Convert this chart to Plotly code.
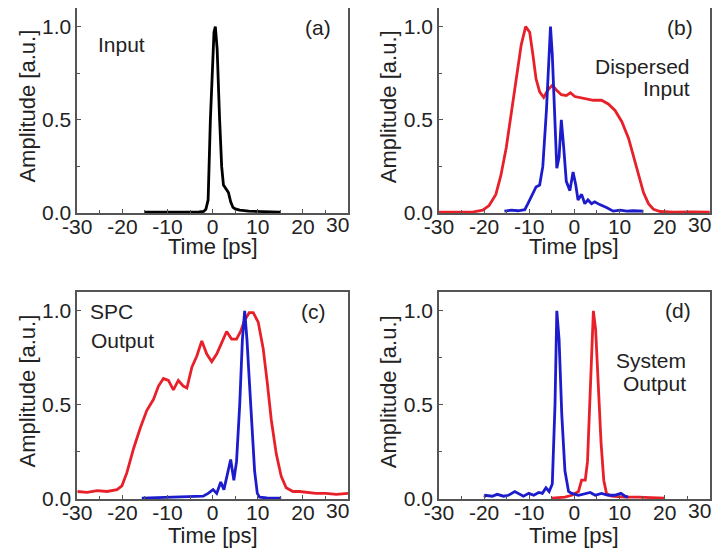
import plotly.graph_objects as go
from plotly.subplots import make_subplots

# (a) input pulse
a_t = [-15, -12, -9, -6, -3, -2, -1.5, -1.0, -0.5, 0, 0.3, 0.6, 1.0, 1.55, 2.0, 2.4, 3.0, 3.5, 4.0, 4.5, 5.0, 6, 8, 10, 12, 15]
a_y = [0.005, 0.004, 0.006, 0.005, 0.006, 0.008, 0.02, 0.07, 0.5, 0.85, 0.97, 1.0, 0.88, 0.5, 0.25, 0.15, 0.13, 0.11, 0.06, 0.03, 0.022, 0.015, 0.01, 0.008, 0.006, 0.005]

# (b) dispersed input
b_red_t = [-30, -25, -22.6, -20.3, -18.9, -17.4, -16.3, -15.1, -14.0, -12.9, -11.8, -10.8, -9.9, -9.2, -8.5, -7.7, -6.8, -5.9, -4.9, -4.0, -2.9, -1.8, -0.9, 0.1, 1.9, 4.2, 6.0, 7.5, 9.0, 10.5, 12.0, 13.1, 14.2, 15.3, 16.4, 17.5, 19.0, 22.0, 26, 30]
b_red_y = [0.005, 0.005, 0.005, 0.015, 0.04, 0.1, 0.2, 0.35, 0.53, 0.73, 0.9, 1.0, 0.97, 0.85, 0.72, 0.65, 0.62, 0.66, 0.685, 0.66, 0.635, 0.63, 0.645, 0.625, 0.615, 0.605, 0.605, 0.585, 0.55, 0.49, 0.4, 0.3, 0.2, 0.11, 0.05, 0.02, 0.008, 0.005, 0.006, 0.005]
b_blue_t = [-15.5, -14, -12.5, -11, -10.3, -9.2, -8.5, -7.7, -7.0, -6.2, -5.6, -5.3, -4.9, -4.4, -3.9, -3.4, -2.9, -2.4, -1.8, -1.0, -0.3, 0.3, 0.8, 1.6, 2.3, 3.0, 3.8, 4.5, 5.6, 7.1, 8.6, 10.1, 11.6, 13.0, 14.6, 15.3]
b_blue_y = [0.01, 0.015, 0.012, 0.018, 0.05, 0.1, 0.14, 0.15, 0.25, 0.55, 0.9, 1.0, 0.85, 0.5, 0.24, 0.3, 0.5, 0.36, 0.17, 0.12, 0.22, 0.15, 0.07, 0.1, 0.05, 0.07, 0.05, 0.06, 0.045, 0.03, 0.01, 0.015, 0.01, 0.012, 0.01, 0.01]

# (c) SPC output
c_red_t = [-30, -27.8, -25.6, -23.4, -21.2, -20.1, -19.0, -17.5, -16.0, -14.6, -13.1, -12.0, -10.9, -9.8, -8.7, -7.6, -6.5, -5.7, -4.6, -3.5, -2.4, -1.3, -0.2, 0.9, 2.0, 3.1, 4.2, 5.3, 6.2, 7.1, 8.1, 9.0, 10.1, 11.2, 12.1, 13.0, 14.1, 15.2, 16.3, 17.8, 19.3, 20.7, 22.9, 25.1, 27.4, 30]
c_red_y = [0.04, 0.035, 0.045, 0.04, 0.05, 0.07, 0.14, 0.27, 0.38, 0.47, 0.53, 0.6, 0.64, 0.63, 0.58, 0.63, 0.6, 0.59, 0.7, 0.76, 0.84, 0.77, 0.73, 0.77, 0.83, 0.89, 0.85, 0.85, 0.89, 0.95, 0.99, 0.99, 0.94, 0.8, 0.62, 0.42, 0.24, 0.12, 0.06, 0.04, 0.04, 0.035, 0.03, 0.03, 0.025, 0.03]
c_blue_t = [-15.7, -12, -8, -4, -2.1, -1.0, 0.1, 0.9, 1.8, 2.5, 3.2, 4.0, 4.7, 5.3, 6.0, 6.6, 7.1, 7.6, 8.2, 8.8, 9.3, 9.9, 10.4, 12, 15.2]
c_blue_y = [0.005, 0.008, 0.01, 0.012, 0.015, 0.03, 0.05, 0.03, 0.09, 0.05, 0.13, 0.21, 0.1, 0.2, 0.5, 0.85, 1.0, 0.85, 0.6, 0.35, 0.15, 0.03, 0.01, 0.006, 0.005]

# (d) system output
d_blue_t = [-19.9, -19.7, -18.2, -17.1, -15.7, -14.6, -13.2, -12.4, -11.3, -10.1, -9.0, -7.9, -7.1, -6.3, -5.6, -4.9, -4.3, -3.9, -3.4, -2.8, -2.1, -1.3, -0.6, 0.9, 2.4, 3.5, 4.6, 6.0, 7.5, 8.9, 10.3, 11.2, 11.9]
d_blue_y = [0.01, 0.02, 0.015, 0.025, 0.015, 0.02, 0.04, 0.03, 0.015, 0.03, 0.02, 0.035, 0.03, 0.06, 0.04, 0.08, 0.5, 1.0, 0.85, 0.45, 0.15, 0.04, 0.03, 0.02, 0.03, 0.035, 0.02, 0.03, 0.02, 0.02, 0.03, 0.015, 0.01]
d_red_t = [-5, -2.1, -0.6, 0.9, 1.6, 2.4, 2.9, 3.5, 4.0, 4.2, 4.7, 5.3, 5.9, 6.5, 7.1, 8.2, 11.2, 14.1, 17.1, 20]
d_red_y = [0.005, 0.01, 0.02, 0.04, 0.1, 0.1, 0.2, 0.6, 0.95, 1.0, 0.9, 0.6, 0.3, 0.1, 0.03, 0.015, 0.01, 0.01, 0.008, 0.005]

x_ticks = [-30, -20, -10, 0, 10, 20, 30]
x_labels = ["-30", "-20", "-10", "0", "10", "20", ""]
y_ticks = [0, 0.5, 1.0]
y_labels = ["0.0", "0.5", "1.0"]

RED = "#e8202a"
BLUE = "#1c1ccc"
INK = "#222"
FONT = "Liberation Sans, Arial, sans-serif"

fig = make_subplots(rows=2, cols=2)

def line(t, y, color, r, c):
    fig.add_trace(go.Scatter(x=t, y=y, mode="lines", showlegend=False,
                             line=dict(color=color, width=2.8)), row=r, col=c)

line(a_t, a_y, "black", 1, 1)
line(b_red_t, b_red_y, RED, 1, 2)
line(b_blue_t, b_blue_y, BLUE, 1, 2)
line(c_red_t, c_red_y, RED, 2, 1)
line(c_blue_t, c_blue_y, BLUE, 2, 1)
line(d_red_t, d_red_y, RED, 2, 2)
line(d_blue_t, d_blue_y, BLUE, 2, 2)

# page body has an 8px margin, so the figure is 714x549 and shifted
xdom = [[0.097, 0.4762], [0.6036, 0.983]]
ydom = [[0.6266, 1.0], [0.1056, 0.4827]]
for r in (1, 2):
    for c in (1, 2):
        fig.update_xaxes(row=r, col=c, domain=xdom[c - 1], range=[-30, 30],
                         tickvals=x_ticks, ticktext=x_labels, automargin=False,
                         ticks="inside", ticklen=4, showgrid=False,
                         zeroline=False, showline=True, mirror=True,
                         linecolor="#555", linewidth=1.5, tickcolor="#555",
                         ticklabelstandoff=-6,
                         minor=dict(dtick=5, ticks="inside", ticklen=3, tickcolor="#555"),
                         tickfont=dict(size=21, color=INK))
        fig.update_yaxes(row=r, col=c, domain=ydom[r - 1], range=[0, 1.1],
                         tickvals=y_ticks, ticktext=y_labels, automargin=False,
                         ticks="inside", ticklen=4, showgrid=False,
                         zeroline=False, showline=True, mirror=True,
                         linecolor="#555", linewidth=1.5, tickcolor="#555",
                         minor=dict(tickvals=[0.25, 0.75], ticks="inside", ticklen=3, tickcolor="#555"),
                         tickfont=dict(size=21, color=INK))

# axis titles, placed by hand to sit as close to the ticks as in the original
title_y = {"": -0.165, "2": -0.165, "3": -0.178, "4": -0.178}
for k, yy in title_y.items():
    fig.add_annotation(xref="x%s domain" % k, yref="y%s domain" % k, x=0.5, y=yy,
                       text="Time [ps]", showarrow=False,
                       xanchor="center", yanchor="middle",
                       font=dict(size=22, color=INK))
    fig.add_annotation(xref="x%s domain" % k, yref="y%s domain" % k, x=-0.185, y=0.52,
                       text="Amplitude [a.u.]", textangle=-90, showarrow=False,
                       xanchor="center", yanchor="middle",
                       font=dict(size=22, color=INK))

notes = [
    ("", 0.944, 0.907, "(a)", "right"),
    ("", 0.07, 0.82, "Input", "left"),
    ("2", 0.944, 0.907, "(b)", "right"),
    ("2", 0.933, 0.715, "Dispersed", "right"),
    ("2", 0.933, 0.605, "Input", "right"),
    ("3", 0.926, 0.908, "(c)", "right"),
    ("3", 0.04, 0.908, "SPC", "left"),
    ("3", 0.044, 0.768, "Output", "left"),
    ("4", 0.9375, 0.913, "(d)", "right"),
    ("4", 0.919, 0.667, "System", "right"),
    ("4", 0.919, 0.56, "Output", "right"),
]
for k, x, y, txt, al in notes:
    fig.add_annotation(xref="x%s domain" % k, yref="y%s domain" % k, x=x, y=y,
                       text=txt, showarrow=False, xanchor=al, yanchor="middle",
                       font=dict(size=21, color=INK))

# the "30" label sits a little left of the last tick, as in the original
for k in ("", "2", "3", "4"):
    fig.add_annotation(xref="x%s domain" % k, yref="y%s domain" % k, x=0.96, y=0,
                       yshift=2, xanchor="center", yanchor="top", text="30",
                       showarrow=False, font=dict(size=21, color=INK))

fig.update_layout(width=714, height=549, margin=dict(l=0, r=0, t=0, b=0),
                  plot_bgcolor="white", paper_bgcolor="white",
                  font=dict(family=FONT, color=INK))

fig.write_html("out.html")
